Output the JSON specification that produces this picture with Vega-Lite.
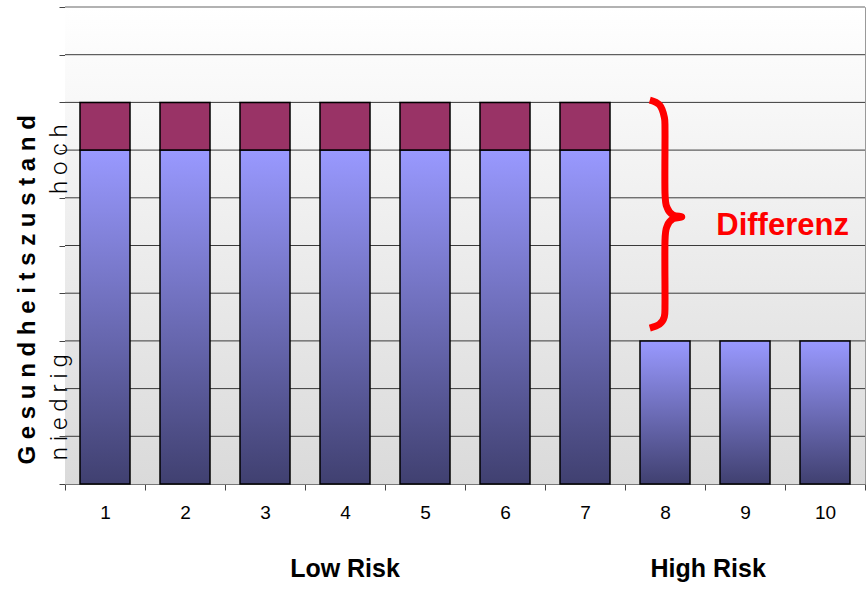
{
  "$schema": "https://vega.github.io/schema/vega-lite/v6.json",
  "autosize": "none",
  "width": 800,
  "height": 477,
  "padding": {"left": 65, "top": 7, "right": 1, "bottom": 120},
  "config": {
    "view": {"stroke": "#999999", "strokeWidth": 1},
    "font": "Liberation Sans",
    "axisX": {"domainColor": "#777777", "tickColor": "#444444", "tickSize": 6, "grid": false, "labelFont": "Liberation Sans", "labelFontSize": 19, "labelColor": "#000000", "labelPadding": 13, "labelOverlap": false, "labelBound": false, "labelFlush": false},
    "axisY": {"domainColor": "#999999", "tickColor": "#444444", "tickSize": 6, "grid": false, "labels": false}
  },
  "layer": [
    {
      "data": {"values": [{"x": 0.5, "x2": 10.5, "y": 0, "y2": 10}]},
      "mark": {"type": "rect", "fill": {"gradient": "linear", "x1": 0, "y1": 0, "x2": 0, "y2": 1, "stops": [{"offset": 0, "color": "#ffffff"}, {"offset": 1, "color": "#dadada"}]}},
      "encoding": {
        "x": {"field": "x", "type": "quantitative", "title": null, "scale": {"domain": [0.5, 10.5], "nice": false, "zero": false}, "axis": {"values": [0.5, 1.5, 2.5, 3.5, 4.5, 5.5, 6.5, 7.5, 8.5, 9.5, 10.5], "labelExpr": "datum.value < 10 ? format(datum.value + 0.5, 'd') : ''", "labelOffset": 40}},
        "x2": {"field": "x2"},
        "y": {"field": "y", "type": "quantitative", "title": null, "scale": {"domain": [0, 10], "nice": false}, "axis": {"values": [0, 1, 2, 3, 4, 5, 6, 7, 8, 9, 10]}},
        "y2": {"field": "y2"}
      }
    },
    {
      "data": {"values": [{"y": 1}, {"y": 2}, {"y": 3}, {"y": 4}, {"y": 5}, {"y": 6}, {"y": 7}, {"y": 8}, {"y": 9}]},
      "mark": {"type": "rule", "color": "#3a3a3a", "strokeWidth": 1},
      "encoding": {
        "y": {"field": "y", "type": "quantitative", "title": null}
      }
    },
    {
      "data": {"values": [{"y": 10}]},
      "mark": {"type": "rule", "color": "#999999", "strokeWidth": 1.5},
      "encoding": {
        "y": {"field": "y", "type": "quantitative", "title": null}
      }
    },
    {
      "data": {"values": [
        {"n": 1, "x": 0.6875, "x2": 1.3125, "y": 0, "y2": 7, "seg": "basis"},
        {"n": 2, "x": 1.6875, "x2": 2.3125, "y": 0, "y2": 7, "seg": "basis"},
        {"n": 3, "x": 2.6875, "x2": 3.3125, "y": 0, "y2": 7, "seg": "basis"},
        {"n": 4, "x": 3.6875, "x2": 4.3125, "y": 0, "y2": 7, "seg": "basis"},
        {"n": 5, "x": 4.6875, "x2": 5.3125, "y": 0, "y2": 7, "seg": "basis"},
        {"n": 6, "x": 5.6875, "x2": 6.3125, "y": 0, "y2": 7, "seg": "basis"},
        {"n": 7, "x": 6.6875, "x2": 7.3125, "y": 0, "y2": 7, "seg": "basis"},
        {"n": 8, "x": 7.6875, "x2": 8.3125, "y": 0, "y2": 3, "seg": "basis"},
        {"n": 9, "x": 8.6875, "x2": 9.3125, "y": 0, "y2": 3, "seg": "basis"},
        {"n": 10, "x": 9.6875, "x2": 10.3125, "y": 0, "y2": 3, "seg": "basis"}
      ]},
      "mark": {"type": "rect", "stroke": "#000000", "strokeWidth": 1.5, "fill": {"gradient": "linear", "x1": 0, "y1": 0, "x2": 0, "y2": 1, "stops": [{"offset": 0, "color": "#9999ff"}, {"offset": 1, "color": "#404070"}]}},
      "encoding": {
        "x": {"field": "x", "type": "quantitative", "title": null},
        "x2": {"field": "x2"},
        "y": {"field": "y", "type": "quantitative", "title": null},
        "y2": {"field": "y2"}
      }
    },
    {
      "data": {"values": [
        {"n": 1, "x": 0.6875, "x2": 1.3125, "y": 7, "y2": 8, "seg": "extra"},
        {"n": 2, "x": 1.6875, "x2": 2.3125, "y": 7, "y2": 8, "seg": "extra"},
        {"n": 3, "x": 2.6875, "x2": 3.3125, "y": 7, "y2": 8, "seg": "extra"},
        {"n": 4, "x": 3.6875, "x2": 4.3125, "y": 7, "y2": 8, "seg": "extra"},
        {"n": 5, "x": 4.6875, "x2": 5.3125, "y": 7, "y2": 8, "seg": "extra"},
        {"n": 6, "x": 5.6875, "x2": 6.3125, "y": 7, "y2": 8, "seg": "extra"},
        {"n": 7, "x": 6.6875, "x2": 7.3125, "y": 7, "y2": 8, "seg": "extra"}
      ]},
      "mark": {"type": "rect", "stroke": "#000000", "strokeWidth": 1.5, "fill": "#993366"},
      "encoding": {
        "x": {"field": "x", "type": "quantitative", "title": null},
        "x2": {"field": "x2"},
        "y": {"field": "y", "type": "quantitative", "title": null},
        "y2": {"field": "y2"}
      }
    },
    {
      "data": {"values": [
        {"i": 0, "x": 7.81, "y": 8.05},
        {"i": 1, "x": 7.93, "y": 7.95},
        {"i": 2, "x": 7.99, "y": 7.7},
        {"i": 3, "x": 8.0, "y": 7.4},
        {"i": 4, "x": 8.0, "y": 6.1},
        {"i": 5, "x": 8.03, "y": 5.78},
        {"i": 6, "x": 8.1, "y": 5.64},
        {"i": 7, "x": 8.21, "y": 5.6},
        {"i": 8, "x": 8.1, "y": 5.56},
        {"i": 9, "x": 8.03, "y": 5.42},
        {"i": 10, "x": 8.0, "y": 5.1},
        {"i": 11, "x": 8.0, "y": 3.8},
        {"i": 12, "x": 7.99, "y": 3.5},
        {"i": 13, "x": 7.93, "y": 3.35},
        {"i": 14, "x": 7.81, "y": 3.27}
      ]},
      "mark": {"type": "line", "color": "#ff0000", "strokeWidth": 7, "interpolate": "cardinal", "strokeCap": "butt", "strokeJoin": "round"},
      "encoding": {
        "x": {"field": "x", "type": "quantitative", "title": null},
        "y": {"field": "y", "type": "quantitative", "title": null},
        "order": {"field": "i", "type": "quantitative"}
      }
    },
    {
      "data": {"values": [{"x": 9.47, "y": 5.22, "label": "Differenz"}]},
      "mark": {"type": "text", "color": "#ff0000", "font": "Liberation Sans", "fontWeight": "bold", "fontSize": 31, "baseline": "alphabetic", "align": "center"},
      "encoding": {
        "x": {"field": "x", "type": "quantitative", "title": null},
        "y": {"field": "y", "type": "quantitative", "title": null},
        "text": {"field": "label"}
      }
    },
    {
      "data": {"values": [{"x": 4.0, "y": -1.95, "label": "Low Risk"}, {"x": 8.54, "y": -1.95, "label": "High Risk"}]},
      "mark": {"type": "text", "color": "#000000", "fontWeight": "bold", "fontSize": 25, "baseline": "alphabetic", "align": "center"},
      "encoding": {
        "x": {"field": "x", "type": "quantitative", "title": null},
        "y": {"field": "y", "type": "quantitative", "title": null},
        "text": {"field": "label"}
      }
    },
    {
      "data": {"values": [{"x": 0.0375, "y": 4.07, "label": "G e s u n d h e i t s z u s t a n d"}]},
      "mark": {"type": "text", "color": "#000000", "fontWeight": "bold", "fontSize": 24, "angle": 270, "baseline": "middle", "align": "center"},
      "encoding": {
        "x": {"field": "x", "type": "quantitative", "title": null},
        "y": {"field": "y", "type": "quantitative", "title": null},
        "text": {"field": "label"}
      }
    },
    {
      "data": {"values": [{"x": 0.4375, "y": 6.81, "label": "h o c h"}, {"x": 0.4375, "y": 1.61, "label": "n i e d r i g"}]},
      "mark": {"type": "text", "color": "#000000", "font": "Roboto", "fontWeight": 300, "fontSize": 24, "angle": 270, "baseline": "middle", "align": "center"},
      "encoding": {
        "x": {"field": "x", "type": "quantitative", "title": null},
        "y": {"field": "y", "type": "quantitative", "title": null},
        "text": {"field": "label"}
      }
    }
  ]
}
